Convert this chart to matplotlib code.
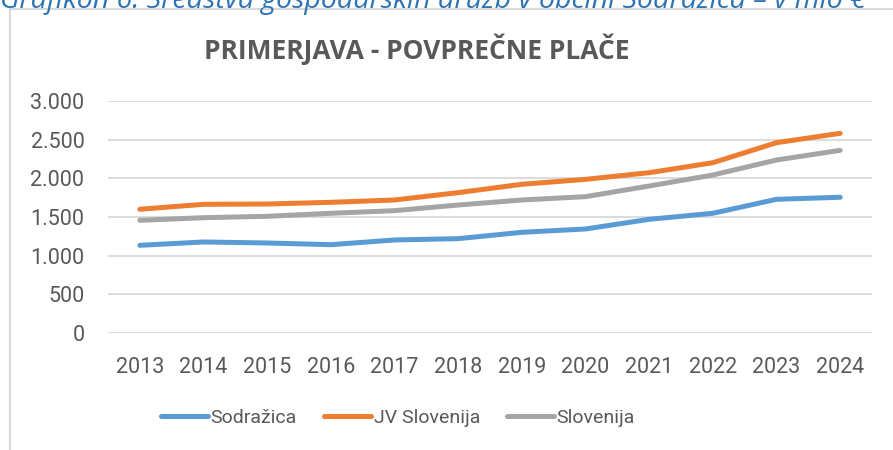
import matplotlib.pyplot as plt
import matplotlib.patches as mpatches
from matplotlib.ticker import FuncFormatter

years = [2013, 2014, 2015, 2016, 2017, 2018, 2019, 2020, 2021, 2022, 2023, 2024]
sodrazica = [1134, 1177, 1164, 1142, 1203, 1220, 1302, 1345, 1470, 1548, 1729, 1755]
jv_slovenija = [1600, 1664, 1668, 1690, 1720, 1815, 1923, 1987, 2073, 2202, 2461, 2582]
slovenija = [1457, 1491, 1509, 1548, 1582, 1655, 1720, 1763, 1901, 2043, 2237, 2362]

names = ['Sodražica', 'JV Slovenija', 'Slovenija']
colors = ['#5B9BD5', '#ED7D31', '#A5A5A5']
txt = '#595959'

fig = plt.figure(figsize=(8.93, 4.5), dpi=100)

# chart frame (cut off right and bottom)
fig.patches.append(mpatches.Rectangle((10/893, -0.1), 1.0, 1 - 9/450 + 0.1,
                                      transform=fig.transFigure, fill=False,
                                      edgecolor='#D9D9D9', linewidth=1.5))

# caption of the page above, only lower part visible
fig.text(0.0, 1 - 8/450, 'Grafikon 6: Sredstva gospodarskih družb v občini Sodražica – v mio €',
         color='#2E74B5', fontsize=20.5, style='italic', family='Open Sans',
         ha='left', va='baseline')

ax = fig.add_axes([108/893, 1 - 333/450, 764/893, 232/450])
x = list(range(len(years)))
for vals, name, c in zip([sodrazica, jv_slovenija, slovenija], names, colors):
    ax.plot(x, vals, color=c, linewidth=3.6, solid_capstyle='round', label=name)

ax.set_xlim(-0.5, len(years) - 0.5)
ax.set_ylim(0, 3000)
ax.set_yticks(range(0, 3001, 500))
ax.yaxis.set_major_formatter(FuncFormatter(lambda v, p: f'{int(v):,}'.replace(',', '.')))
ax.set_xticks(x)
ax.set_xticklabels([str(y) for y in years])
ax.grid(axis='y', color='#D9D9D9', linewidth=1.3)
ax.set_axisbelow(True)
for s in ax.spines.values():
    s.set_visible(False)
ax.tick_params(length=0, labelsize=15.5, labelcolor=txt, pad=17)
ax.tick_params(axis='y', pad=17)
for lab in ax.get_xticklabels() + ax.get_yticklabels():
    lab.set_family('Roboto')

fig.text(417/893, 1 - 49/450, 'PRIMERJAVA - POVPREČNE PLAČE', ha='center', va='center',
         fontsize=19, fontweight='bold', color=txt, family='Open Sans')

leg = fig.legend(loc='center', bbox_to_anchor=(398/893, 1 - 418/450), ncol=3,
                 frameon=False, handlelength=2.4, handletextpad=0.15,
                 columnspacing=1.4, prop={'family': 'Roboto', 'size': 14})
for t in leg.get_texts():
    t.set_color(txt)

fig.savefig('out.png', dpi=100)
